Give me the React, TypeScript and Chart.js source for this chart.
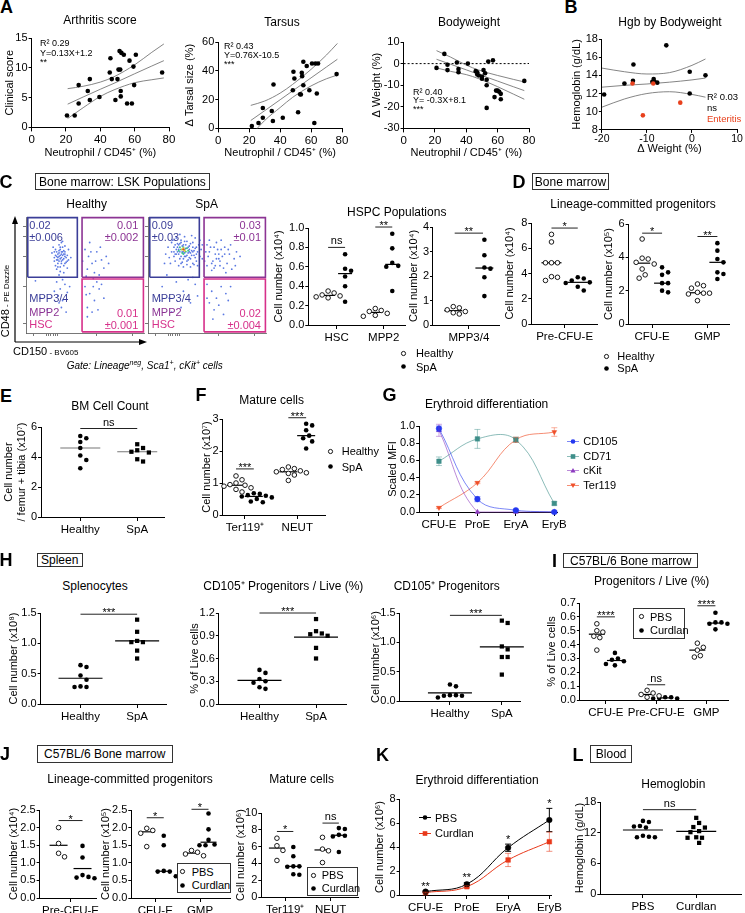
import React, { useEffect, useRef } from "react";
import { Chart, registerables } from "chart.js";

Chart.register(...registerables);
const FF = "'Liberation Sans', Arial, Helvetica, sans-serif";
Chart.defaults.font.family = FF;
Chart.defaults.color = "#000";

/* ======================= DATA ======================= */
// A – neutrophil % vs outcomes
const arthX = [20.6, 25.1, 27.4, 27.4, 32.7, 33.9, 33.9, 39.5, 45.9, 45.5, 46.7, 48.8, 50.0, 50.6, 51.2, 51.6, 51.9, 51.9, 52.3, 53.7, 55.6, 58.4, 57.0, 59.3, 59.7, 60.7, 76.0];
const arthY = [2.0, 2.0, 7.1, 4.0, 6.1, 8.1, 4.6, 5.1, 11.6, 9.2, 8.1, 4.6, 8.1, 9.7, 12.8, 9.7, 5.2, 6.1, 12.5, 12.2, 4.0, 4.0, 11.2, 10.2, 7.1, 12.2, 9.2];
const tarsX = [21.7, 26.0, 28.8, 28.8, 34.6, 35.3, 35.7, 41.7, 48.2, 48.6, 49.2, 51.6, 52.9, 53.4, 54.0, 54.2, 55.0, 55.0, 57.2, 58.9, 60.6, 62.1, 62.8, 63.7, 64.5, 76.5];
const tarsY = [1.6, 3.7, 14.2, 7.4, 12.1, 5.1, 30.5, 7.4, 26.5, 39.3, 34.7, 11.2, 23.7, 23.5, 38.6, 36.3, 46.3, 30, 43.3, 26.5, 45.1, 3.7, 45.1, 24.2, 45.1, 37.7];
const bwX = [21, 26, 28, 28, 34, 35, 35, 41, 46, 47, 47, 48, 50, 50, 51, 52, 53, 53, 53, 54, 57, 58, 59, 60, 61, 62, 62, 77];
const bwY = [-2, 4.5, -0.5, -3, 0.5, -2.5, -4, 0, -3.5, -4, -5, -5.5, -7, -6, -3, -4.5, -7.5, -10, -20.5, 1, 1.5, -15.5, -12.5, -12.5, -13, -16.5, -14, -8];
const bandX = [21, 30, 40, 48, 60, 70, 77];
const arthFit = [3.9, 5.1, 6.4, 7.4, 9.0, 10.3, 11.2];
const arthUp = [6.5, 6.9, 7.6, 8.5, 10.5, 12.6, 14.0];
const arthLo = [1.5, 3.3, 5.2, 6.3, 7.5, 8.0, 8.3];
const tarsFit = [5.5, 12.3, 19.9, 26.0, 35.1, 42.7, 48.0];
const tarsUp = [16, 19, 24.5, 30.5, 41, 51, 59];
const tarsLo = [-5, 5.5, 14.5, 21.5, 29.5, 34.5, 37];
const bwFit = [2.0, -0.3, -2.9, -5.0, -8.1, -10.7, -12.5];
const bwUp = [6.0, 3.0, -0.7, -3.0, -5.5, -7.3, -8.5];
const bwLo = [-2.0, -3.6, -5.1, -7.0, -10.7, -14.1, -16.5];

// B – hemoglobin vs weight
const hgbX = [-19.5, -15.0, -13.0, -13.1, -8.8, -8.5, -8.3, -7.7, -5.7, -0.5, -0.5, 3.0];
const hgbY = [11.9, 13.1, 15.2, 13.4, 13.3, 13.6, 13.3, 13.2, 17.3, 14.4, 12.0, 14.0];
const entX = [-13.2, -8.6, -10.9, -2.6];
const entY = [13.1, 13.1, 9.6, 11.0];
const hgbBandX = [-20, -15, -10, -5, 0, 3];
const hgbFit = [12.7, 12.9, 13.05, 13.25, 13.5, 13.7];
const hgbUp = [14.8, 14.4, 14.15, 14.3, 15.1, 15.8];
const hgbLo = [10.5, 11.4, 12.0, 12.2, 11.9, 11.6];

// C – flow cytometry (arbitrary 0–100 units)
const flowHealthy = [[28,66],[30,68],[26,70],[32,64],[29,72],[24,62],[33,70],[27,60],[31,74],[35,67],[25,67],[30,62],[28,76],[34,61],[22,69],[36,72],[29,57],[32,58],[26,55],[38,65],[23,74],[31,79],[27,63],[33,66],[30,70],[25,58],[35,56],[29,64],[27,68],[31,70],[30,65],[26,63],[33,75],[28,71],[32,68],[24,65],[36,63],[29,67],[27,65],[31,63],[33,68],[28,69],[30,60],[26,66],[32,71],[34,65],[29,74],[25,72],[31,67],[28,62],[30,78],[27,57],[35,62],[33,60],[24,70],[29,53],[32,52],[28,50],[31,46],[26,44],[33,42],[29,38],[35,35],[27,32],[31,28],[24,36],[37,40],[30,22],[34,18],[28,26],[50,72],[53,66],[56,60],[52,55],[60,70],[58,52],[64,63],[66,56],[54,78],[62,50],[70,60],[48,62],[55,70],[59,62],[63,74],[57,47],[51,49],[68,66],[50,40],[54,34],[58,28],[52,22],[62,38],[56,18],[66,30],[60,44],[52,14],[51,33],[57,40],[61,20],[64,42],[12,30],[18,20],[8,45]];
const flowSpa = [[20,70],[22,74],[24,68],[25,77],[26,72],[27,64],[28,80],[29,70],[30,76],[31,66],[32,73],[33,79],[34,69],[35,75],[36,64],[37,71],[38,78],[39,67],[40,73],[41,62],[42,70],[43,76],[44,66],[45,72],[18,65],[19,60],[21,80],[23,62],[26,58],[28,60],[30,57],[33,59],[36,57],[39,59],[42,58],[17,74],[20,78],[24,82],[31,83],[37,84],[44,80],[46,64],[46,76],[15,68],[22,66],[34,63],[27,85],[40,82],[14,60],[38,60],[25,70],[35,70],[23,76],[38,74],[41,68],[26,68],[28,66],[31,69],[33,67],[35,72],[29,75],[27,70],[32,76],[36,69],[24,72],[30,64],[34,74],[28,78],[37,67],[22,70],[25,74],[33,62],[39,71],[29,61],[31,79],[26,76],[36,77],[40,65],[23,68],[41,74],[30,70],[32,66],[27,77],[35,65],[38,70],[49,70],[51,66],[53,74],[55,62],[57,68],[59,72],[61,58],[63,66],[65,74],[67,60],[69,68],[71,55],[73,64],[75,70],[50,58],[54,54],[58,78],[62,80],[66,52],[70,76],[52,80],[56,56],[60,64],[64,56],[68,72],[48,62],[74,58],[78,66],[52,70],[56,74],[60,68],[54,60],[58,64],[62,72],[50,76],[57,58],[65,68],[61,62],[50,42],[54,36],[58,30],[62,40],[66,34],[52,26],[56,20],[60,24],[64,16],[68,28],[70,40],[55,12],[50,30],[12,40],[18,30],[24,44],[30,36],[36,26],[40,42],[20,18],[28,22],[34,46],[42,32],[16,50],[38,48],[10,28]];
const flowSpaCoreG = [[28,72],[31,72],[29,69],[32,70],[26,71],[30,74],[33,73],[27,74],[30,68],[34,71]];
const flowSpaCoreY = [[29,72],[31,71],[30,73]];
const flowSpaCoreR = [[30,72]];
const gateMpp34 = [1.5, 48, 43.5, 99.5];
const gateMpp2 = [47.5, 48, 99.5, 99.5];
const gateHsc = [47.5, 1, 99.5, 46.5];
const flowXTicks = [6, 17, 19, 21, 23, 25, 27, 60, 90];
const flowYTicks = [8, 40, 66, 83, 92];

// C – HSPC populations
const hspcCats = ["HSC", "MPP2"];
const hscH = [0.35, 0.33, 0.31, 0.30, 0.29, 0.28];
const hscS = [0.73, 0.58, 0.56, 0.50, 0.40, 0.24];
const mpp2H = [0.17, 0.15, 0.14, 0.12, 0.10, 0.09];
const mpp2S = [0.94, 0.79, 0.64, 0.61, 0.60, 0.35];
const mpp34Cats = ["MPP3/4"];
const mpp34H = [0.75, 0.70, 0.62, 0.55, 0.50, 0.45];
const mpp34S = [3.48, 2.85, 2.35, 2.30, 1.95, 1.18];

// D – lineage-committed progenitors
const preCats = ["Pre-CFU-E"];
const preH = [7.1, 6.5, 4.85, 4.85, 4.85, 3.75, 3.7, 3.45];
const preS = [3.7, 3.6, 3.45, 3.3, 3.25, 2.95, 2.65];
const cfuGmpCats = ["CFU-E", "GMP"];
const cfuH = [5.1, 3.95, 3.9, 3.7, 3.6, 3.3, 2.95, 2.75];
const cfuS = [3.4, 3.1, 2.95, 2.45, 2.45, 2.0, 1.9];
const gmpH = [2.4, 2.3, 2.15, 1.9, 1.85, 1.85, 1.8, 1.4];
const gmpS = [4.85, 4.4, 3.9, 3.7, 3.1, 3.0, 2.7];

// E – BM cell count
const groupCats = ["Healthy", "SpA"];
const eH = [5.4, 5.25, 5.0, 4.6, 4.1, 3.8, 3.25];
const eS = [4.85, 4.6, 4.45, 4.35, 4.3, 3.85, 3.7];

// F – mature cells
const matureCats = ["Ter119⁺", "NEUT"];
const fTerH = [1.22, 1.1, 1.0, 0.95, 0.93, 0.9, 0.85, 0.8, 0.72];
const fTerS = [0.68, 0.66, 0.62, 0.6, 0.58, 0.55, 0.5, 0.42, 0.4];
const fNeuH = [1.5, 1.45, 1.42, 1.38, 1.35, 1.32, 1.3, 1.25, 1.08];
const fNeuS = [2.85, 2.8, 2.65, 2.48, 2.4, 2.3, 2.08];

// G – erythroid differentiation (scaled MFI)
const eryCats = ["CFU-E", "ProE", "EryA", "EryB"];
const cd105 = [0.97, 0.15, 0.02, 0.0];
const cd105Err = [0.03, 0.03, 0.01, 0.01];
const cd71 = [0.59, 0.85, 0.84, 0.10];
const cd71Err = [0.05, 0.11, 0.03, 0.02];
const ckit = [0.95, 0.0, 0.0, 0.0];
const ckitErr = [0.07, 0, 0, 0];
const ter119 = [0.05, 0.34, 0.84, 0.93];
const ter119Err = [0.01, 0.01, 0.03, 0.05];

// H – spleen
const h1H = [0.64, 0.61, 0.47, 0.40, 0.29, 0.28, 0.28];
const h1S = [1.39, 1.19, 1.04, 1.02, 1.02, 0.88, 0.75];
const h2H = [0.45, 0.41, 0.33, 0.30, 0.28, 0.22, 0.20];
const h2S = [1.12, 0.96, 0.93, 0.92, 0.90, 0.74, 0.60];
const h3H = [0.28, 0.25, 0.10, 0.10, 0.09, 0.09, 0.06];
const h3S = [1.37, 1.33, 0.93, 0.88, 0.75, 0.75, 0.45];

// I – C57BL/6 progenitors / live
const iCats = ["CFU-E", "Pre-CFU-E", "GMP"];
const iCfuP = [0.55, 0.50, 0.49, 0.46, 0.45, 0.36];
const iCfuC = [0.34, 0.30, 0.29, 0.28, 0.26, 0.25];
const iPreP = [0.07, 0.05, 0.04, 0.03, 0.02];
const iPreC = [0.02, 0.02, 0.015, 0.01, 0.01];
const iGmpP = [0.41, 0.38, 0.36, 0.32, 0.31];
const iGmpC = [0.63, 0.56, 0.56, 0.55, 0.55, 0.51];

// J – C57BL/6 bone marrow
const j1P = [2.0, 1.55, 1.27, 1.17];
const j1C = [1.48, 1.15, 0.65, 0.6, 0.58, 0.56];
const j2CfuP = [1.98, 1.92, 1.84, 1.46];
const j2CfuC = [1.77, 1.5, 0.77, 0.75, 0.75, 0.62];
const j2GmpP = [1.35, 1.3, 1.25, 1.2];
const j2GmpC = [2.4, 1.95, 1.65, 1.52, 1.5, 1.5];
const j3TerP = [7.0, 6.1, 5.55, 4.35];
const j3TerC = [5.95, 4.85, 3.65, 3.65, 3.6, 2.7, 2.65];
const j3NeuP = [7.1, 5.7, 5.5, 4.1];
const j3NeuC = [8.2, 8.1, 7.4, 7.3, 7.2, 5.35];

// K – erythroid differentiation (cell numbers)
const kPbs = [0.28, 0.9, 3.94, 6.25];
const kPbsErr = [0.05, 0.12, 0.3, 0.97];
const kCur = [0.2, 0.69, 2.92, 4.44];
const kCurErr = [0.04, 0.08, 0.55, 0.8];
const kStars = ["**", "**", "*", "*"];

// L – blood hemoglobin
const lCats = ["PBS", "Curdlan"];
const lP = [14.3, 14.1, 13.3, 13.2, 13.0, 11.4, 11.2, 11.1, 11.1];
const lC = [14.9, 13.9, 13.1, 13.0, 12.3, 12.1, 11.1, 11.0, 11.0, 10.0];

/* ======================= HELPERS ======================= */
const P = 14;
const HALF = 6.6;
const TICKX = { size: 11.5, family: FF };
const TICKY = { size: 11, family: FF };
const TTL = { size: 11, family: FF };
const R = 2.3;
const BLUE = "#3b3e98";
const PURPLE = "#8c3494";
const PINK = "#d6308a";

const f1 = (v: number) => v.toFixed(1);
const f0 = (v: number) => String(Math.round(v));

const fixY = (w: number) => (s: any) => { s.width = w; s.paddingTop = 0; s.paddingBottom = 0; s.paddingLeft = 0; s.paddingRight = 0; };
const fixX = (h: number) => (s: any) => { s.height = h; s.paddingTop = 0; s.paddingBottom = 0; s.paddingLeft = 0; s.paddingRight = 0; };

function baseOpts(): any {
  return { responsive: false, animation: false, events: [], layout: { padding: P }, plugins: { legend: { display: false }, tooltip: { enabled: false } } };
}
const gridTicks = (len = 4) => ({ display: true, drawOnChartArea: false, drawTicks: true, tickLength: len, color: "#000", lineWidth: 1 });
const borderBlack = { display: true, color: "#000", width: 1 };

function yAxis(o: any) {
  return {
    type: "linear", min: o.yMin, max: o.yMax,
    ticks: { stepSize: o.yStep, font: TICKY, padding: 1, color: "#000", autoSkip: false, callback: (v: number) => (o.fmt ? o.fmt(v) : f0(v)) },
    grid: gridTicks(3), border: borderBlack,
    title: { display: !!o.yTitle, text: o.yTitle, font: TTL, padding: 0, color: "#000" },
    afterFit: fixY(o.yW),
  };
}
function numXAxis(o: any) {
  return {
    type: "linear", min: o.xMin, max: o.xMax,
    ticks: { stepSize: o.xStep, font: o.xFont || TICKX, padding: o.xPad ?? 2, color: "#000", maxRotation: 0, autoSkip: false, callback: f0 },
    grid: gridTicks(o.xTl ?? 4), border: borderBlack,
    title: { display: true, text: o.xTitle, font: TTL, padding: 0, color: "#000" },
    afterFit: fixX(o.xH),
  };
}
function catAxis(o: any) {
  return {
    type: "linear", min: o.xMin, max: o.xMax,
    afterBuildTicks: (s: any) => { s.ticks = o.cats.map((_: any, i: number) => ({ value: i })); },
    ticks: { font: TICKX, padding: 2, color: "#000", autoSkip: false, maxRotation: 0, minRotation: 0, callback: (v: number) => o.cats[Math.round(v)] ?? "" },
    grid: gridTicks(), border: borderBlack,
    afterFit: fixX(o.xH),
  };
}

function swarm(vals: number[], ppy: number, d: number): number[] {
  const order = vals.map((_, i) => i).sort((a, b) => vals[b] - vals[a]);
  const placed: number[][] = [];
  const res = vals.map(() => 0);
  for (const i of order) {
    const y = vals[i] * ppy;
    for (let k = 0; k < 60; k++) {
      const c = (k % 2 ? 1 : -1) * Math.ceil(k / 2) * d / 2;
      if (placed.every(([px, py]) => (px - c) ** 2 + (py - y) ** 2 >= d * d * 0.95)) { res[i] = c; placed.push([c, y]); break; }
    }
  }
  return res;
}
function stat(vals: number[], kind: string) {
  if (kind === "mean") return vals.reduce((a, b) => a + b, 0) / vals.length;
  const s = [...vals].sort((a, b) => a - b);
  const n = s.length;
  return n % 2 ? s[(n - 1) / 2] : (s[n / 2 - 1] + s[n / 2]) / 2;
}
function drawSig(ctx: any, xs: any, ys: any, sg: any) {
  const x1 = xs.getPixelForValue(sg.x1), x2 = xs.getPixelForValue(sg.x2), y = ys.getPixelForValue(sg.y);
  ctx.save();
  ctx.strokeStyle = "#222"; ctx.lineWidth = 1;
  ctx.beginPath(); ctx.moveTo(x1, y); ctx.lineTo(x2, y); ctx.stroke();
  ctx.fillStyle = "#000"; ctx.font = `11px ${FF}`; ctx.textAlign = "center"; ctx.textBaseline = "alphabetic";
  const star = sg.text.indexOf("*") >= 0;
  ctx.fillText(sg.text, (x1 + x2) / 2, star ? y + 2 : y - 3);
  ctx.restore();
}

function dotChart(o: any) {
  const [l, t, r, b] = o.area;
  const ppx = (r - l) / (o.xMax - o.xMin), ppy = (b - t) / (o.yMax - o.yMin);
  const datasets = o.groups.map((g: any) => {
    const offs = swarm(g.vals, ppy, g.kind === "square" ? 5.8 : 2 * R + 1.4);
    const cx = g.cat + g.side * (o.off || 0);
    return {
      data: g.vals.map((v: number, i: number) => ({ x: cx + offs[i] / ppx, y: v })),
      pointStyle: g.kind === "square" ? "rect" : "circle",
      pointRadius: g.kind === "square" ? 3 : R,
      pointBackgroundColor: g.kind === "open" ? "#fff" : "#000",
      pointBorderColor: "#000",
      pointBorderWidth: g.kind === "open" ? 0.9 : 0,
      showLine: false, clip: false,
    };
  });
  const deco = {
    id: "deco",
    beforeDatasetsDraw(ch: any) {
      const ctx = ch.ctx, xs = ch.scales.x, ys = ch.scales.y;
      ctx.save(); ctx.strokeStyle = o.medColor || "#000"; ctx.lineWidth = 1.2;
      o.groups.forEach((g: any) => {
        const m = stat(g.vals, o.stat);
        const x = xs.getPixelForValue(g.cat + g.side * (o.off || 0));
        const y = ys.getPixelForValue(m);
        ctx.beginPath(); ctx.moveTo(x - o.medW, y); ctx.lineTo(x + o.medW, y); ctx.stroke();
      });
      ctx.restore();
    },
    afterDatasetsDraw(ch: any) { o.sigs.forEach((sg: any) => drawSig(ch.ctx, ch.scales.x, ch.scales.y, sg)); },
  };
  return { type: "scatter", data: { datasets }, options: { ...baseOpts(), scales: { x: catAxis(o), y: yAxis(o) } }, plugins: [deco] };
}

function regChart(o: any) {
  const line = (xs: number[], ys: number[]) => ({ data: xs.map((x, i) => ({ x, y: ys[i] })), showLine: true, pointRadius: 0, borderColor: "#777", borderWidth: 0.9, tension: 0.4, cubicInterpolationMode: "monotone" });
  const pts = (xs: number[], ys: number[], c: string) => ({ data: xs.map((x, i) => ({ x, y: ys[i] })), pointRadius: R, pointBackgroundColor: c, pointBorderWidth: 0, showLine: false, clip: false });
  const datasets: any[] = [...o.points.map((p: any) => pts(p.x, p.y, p.c)), line(o.bx, o.fit), line(o.bx, o.up), line(o.bx, o.lo)];
  if (o.zero) datasets.push({ data: [{ x: o.xMin, y: 0 }, { x: o.xMax, y: 0 }], showLine: true, pointRadius: 0, borderColor: "#000", borderWidth: 1, borderDash: [2, 2] });
  return { type: "scatter", data: { datasets }, options: { ...baseOpts(), scales: { x: numXAxis(o), y: yAxis(o) } } };
}

function lineChart(o: any) {
  const datasets = o.series.map((s: any) => ({
    data: s.vals.map((v: number, i: number) => ({ x: i, y: v })),
    errors: s.errs, errColor: s.errColor,
    showLine: true, tension: 0.4, borderColor: s.line, borderWidth: 1,
    pointStyle: s.style, pointRotation: s.rot || 0, pointRadius: s.r,
    pointBackgroundColor: s.color, pointBorderColor: s.color, pointBorderWidth: 0.5, clip: false,
  }));
  const deco = {
    id: "err",
    afterDatasetsDraw(ch: any) {
      const ctx = ch.ctx, xs = ch.scales.x, ys = ch.scales.y;
      ctx.save();
      ch.data.datasets.forEach((ds: any) => {
        ctx.strokeStyle = ds.errColor; ctx.lineWidth = 1;
        ds.data.forEach((p: any, i: number) => {
          const e = ds.errors[i];
          if (!e) return;
          const x = xs.getPixelForValue(p.x), y1 = ys.getPixelForValue(p.y - e), y2 = ys.getPixelForValue(p.y + e);
          ctx.beginPath();
          ctx.moveTo(x, y1); ctx.lineTo(x, y2);
          ctx.moveTo(x - 3, y1); ctx.lineTo(x + 3, y1);
          ctx.moveTo(x - 3, y2); ctx.lineTo(x + 3, y2);
          ctx.stroke();
        });
      });
      if (o.stars) {
        ctx.fillStyle = "#000"; ctx.font = `11px ${FF}`; ctx.textAlign = "center"; ctx.textBaseline = "alphabetic";
        o.stars.forEach((st: string, i: number) => {
          const top = Math.max(...o.series.map((s: any) => s.vals[i] + s.errs[i]));
          ctx.fillText(st, xs.getPixelForValue(i), ys.getPixelForValue(top) - 1.5);
        });
      }
      ctx.restore();
    },
  };
  return { type: "scatter", data: { datasets }, options: { ...baseOpts(), scales: { x: catAxis(o), y: yAxis(o) } }, plugins: [deco] };
}

function flowChart(o: any) {
  const rect = (g: number[], c: string) => ({ data: [{ x: g[0], y: g[1] }, { x: g[2], y: g[1] }, { x: g[2], y: g[3] }, { x: g[0], y: g[3] }, { x: g[0], y: g[1] }], showLine: true, tension: 0, pointRadius: 0, borderColor: c, borderWidth: 1.6, clip: false });
  const dots = (arr: number[][], c: string, r: number) => ({ data: arr.map(([x, y]) => ({ x, y })), pointRadius: r, pointBackgroundColor: c, pointBorderWidth: 0, showLine: false });
  const ds: any[] = [rect(gateMpp34, BLUE), rect(gateMpp2, PURPLE), rect(gateHsc, PINK)];
  if (o.core) ds.push(dots(flowSpaCoreR, "#e63b2a", 1.1), dots(flowSpaCoreY, "#e8cf2a", 1.1), dots(flowSpaCoreG, "#35c08c", 1.0));
  ds.push(dots(o.dots, "#5a78e2", 0.9));
  const ax = (ticks: number[], h: boolean) => ({
    type: "linear", min: 0, max: 100,
    afterBuildTicks: (s: any) => { s.ticks = ticks.map((v) => ({ value: v })); },
    ticks: { display: false },
    grid: { display: true, drawOnChartArea: false, drawTicks: true, tickLength: 3, color: "#555", lineWidth: 0.8 },
    border: { display: true, color: "#555", width: 0.8 },
    afterFit: h ? fixX(o.xH) : fixY(o.yW),
  });
  return { type: "scatter", data: { datasets: ds }, options: { ...baseOpts(), scales: { x: ax(flowXTicks, true), y: ax(flowYTicks, false) } } };
}

/* ======================= SPECS ======================= */
const G = (cat: number, side: number, vals: number[], kind: string) => ({ cat, side, vals, kind });
const S = (x1: number, x2: number, y: number, text: string) => ({ x1, x2, y, text });
const mk = (o: any) => ({ xH: 20, ...o, yW: o.area[0] - o.tx + HALF });
const mkR = (o: any) => ({ ...o, yW: o.area[0] - o.tx + HALF, xH: o.ty + HALF - o.area[3] });
const NEUT_T = "Neutrophil / CD45⁺ (%)";

const specA1 = mkR({ area: [32, 38, 169, 127], tx: 10, ty: 153, xMin: 0, xMax: 80, xStep: 20, yMin: 0, yMax: 15, yStep: 5, yTitle: "Clinical score", xTitle: NEUT_T, points: [{ x: arthX, y: arthY, c: "#000" }], bx: bandX, fit: arthFit, up: arthUp, lo: arthLo });
const specA2 = mkR({ area: [218, 42, 342, 128], tx: 189.3, ty: 153, xMin: 0, xMax: 80, xStep: 20, yMin: 0, yMax: 60, yStep: 20, yTitle: "Δ Tarsal size (%)", xTitle: NEUT_T, points: [{ x: tarsX, y: tarsY, c: "#000" }], bx: bandX, fit: tarsFit, up: tarsUp, lo: tarsLo });
const specA3 = mkR({ area: [404, 42, 529, 128], tx: 377, ty: 153, xMin: 0, xMax: 80, xStep: 20, yMin: -30, yMax: 10, yStep: 10, yTitle: "Δ Weight (%)", xTitle: NEUT_T, points: [{ x: bwX, y: bwY, c: "#000" }], bx: bandX, fit: bwFit, up: bwUp, lo: bwLo, zero: true });
const specB = mkR({ area: [602, 39.3, 736.7, 130], tx: 576.7, ty: 149.5, xMin: -20, xMax: 10, xStep: 10, xTl: 3, xPad: 0, xFont: { size: 10.5, family: FF }, yMin: 8, yMax: 18, yStep: 2, yTitle: "Hemoglobin (g/dL)", xTitle: "Δ Weight (%)", points: [{ x: entX, y: entY, c: "#e8401c" }, { x: hgbX, y: hgbY, c: "#000" }], bx: hgbBandX, fit: hgbFit, up: hgbUp, lo: hgbLo });

const specFlowH = { area: [26, 217, 144, 333], yW: 3, xH: 4, dots: flowHealthy, core: false };
const specFlowS = { area: [148, 217, 266, 333], yW: 3, xH: 4, dots: flowSpa, core: true };

const specC1 = mk({ area: [308, 228, 405, 325], tx: 278.3, xMin: -0.6, xMax: 1.45, cats: hspcCats, yMin: 0, yMax: 1, yStep: 0.2, fmt: f1, yTitle: "Cell number (x10⁴)", off: 0.18, medW: 7, stat: "median",
  groups: [G(0, -1, hscH, "open"), G(0, 1, hscS, "filled"), G(1, -1, mpp2H, "open"), G(1, 1, mpp2S, "filled")],
  sigs: [S(-0.18, 0.18, 0.8, "ns"), S(0.82, 1.18, 1.01, "**")] });
const specC2 = mk({ area: [432.7, 226.7, 498.3, 325], tx: 413.3, xMin: -0.76, xMax: 0.64, cats: mpp34Cats, yMin: 0, yMax: 4, yStep: 1, yTitle: "Cell number (x10⁴)", off: 0.33, medW: 9, stat: "median",
  groups: [G(0, -1, mpp34H, "open"), G(0, 1, mpp34S, "filled")], sigs: [S(-0.3, 0.3, 3.75, "**")] });
const specD1 = mk({ area: [531.7, 222.7, 597.3, 324], tx: 510, xMin: -0.71, xMax: 0.69, cats: preCats, yMin: 0, yMax: 8, yStep: 2, yTitle: "Cell number (x10⁴)", off: 0.28, medW: 10, stat: "median",
  groups: [G(0, -1, preH, "open"), G(0, 1, preS, "filled")], sigs: [S(-0.28, 0.28, 7.6, "*")] });
const specD2 = mk({ area: [628.3, 224, 728.3, 324], tx: 608.3, xMin: -0.425, xMax: 1.39, cats: cfuGmpCats, yMin: 0, yMax: 6, yStep: 2, yTitle: "Cell number (x10⁵)", off: 0.18, medW: 8, stat: "median",
  groups: [G(0, -1, cfuH, "open"), G(0, 1, cfuS, "filled"), G(1, -1, gmpH, "open"), G(1, 1, gmpS, "filled")],
  sigs: [S(-0.18, 0.18, 5.45, "*"), S(0.82, 1.18, 5.25, "**")] });
const specE = mk({ area: [40.7, 426.7, 163.3, 516.7], tx: 8.3, xMin: -0.69, xMax: 1.47, cats: groupCats, yMin: 0, yMax: 6, yStep: 2, yTitle: ["Cell number", "/ femur + tibia (x10⁷)"], off: 0, medW: 20, medColor: "#777", stat: "median",
  groups: [G(0, 0, eH, "filled"), G(1, 0, eS, "square")], sigs: [S(0, 1, 5.9, "ns")] });
const specF = mk({ area: [222.7, 419, 325, 515], tx: 206.7, xMin: -0.426, xMax: 1.53, cats: matureCats, yMin: 0, yMax: 3, yStep: 1, yTitle: "Cell number (x10⁷)", off: 0.17, medW: 9, stat: "median",
  groups: [G(0, -1, fTerH, "open"), G(0, 1, fTerS, "filled"), G(1, -1, fNeuH, "open"), G(1, 1, fNeuS, "filled")],
  sigs: [S(-0.17, 0.17, 1.44, "***"), S(0.83, 1.17, 3.04, "***")] });
const specG = mk({ area: [419.3, 426, 556.7, 511.7], tx: 392.7, xMin: -0.514, xMax: 3.07, cats: eryCats, yMin: 0, yMax: 1, yStep: 0.2, fmt: f1, yTitle: "Scaled MFI",
  series: [
    { vals: cd105, errs: cd105Err, color: "#2438f0", line: "rgba(36,56,240,0.6)", errColor: "rgba(36,56,240,0.45)", style: "circle", r: 2.8 },
    { vals: cd71, errs: cd71Err, color: "#3f8f8a", line: "rgba(63,143,138,0.6)", errColor: "rgba(63,143,138,0.45)", style: "rect", r: 3.2 },
    { vals: ckit, errs: ckitErr, color: "#8e3cc0", line: "rgba(142,60,192,0.6)", errColor: "rgba(142,60,192,0.45)", style: "triangle", r: 2.8 },
    { vals: ter119, errs: ter119Err, color: "#f0502a", line: "rgba(240,80,42,0.65)", errColor: "rgba(240,80,42,0.45)", style: "triangle", rot: 180, r: 2.8 },
  ] });
const specH1 = mk({ area: [41, 612.7, 166.7, 703.3], tx: 14, xMin: -0.705, xMax: 1.51, cats: groupCats, yMin: 0, yMax: 1.5, yStep: 0.5, fmt: f1, yTitle: "Cell number (x10⁸)", off: 0, medW: 22, stat: "mean",
  groups: [G(0, 0, h1H, "filled"), G(1, 0, h1S, "square")], sigs: [S(0, 1, 1.48, "***")] });
const specH2 = mk({ area: [219.3, 612.7, 346.7, 703.3], tx: 195, xMin: -0.718, xMax: 1.53, cats: groupCats, yMin: 0, yMax: 1.2, yStep: 0.3, fmt: f1, yTitle: "% of Live cells", off: 0, medW: 22, stat: "mean",
  groups: [G(0, 0, h2H, "filled"), G(1, 0, h2S, "square")], sigs: [S(0, 1, 1.2, "***")] });
const specH3 = mk({ area: [400, 613.3, 520, 701.7], tx: 376, xMin: -0.97, xMax: 1.35, cats: groupCats, yMin: 0, yMax: 1.5, yStep: 0.5, fmt: f1, yTitle: "Cell number (x10⁶)", off: 0, medW: 22, stat: "mean",
  groups: [G(0, 0, h3H, "filled"), G(1, 0, h3S, "square")], sigs: [S(0, 1, 1.46, "***")] });
const specI = mk({ area: [580, 603.3, 728.3, 700.7], tx: 551.7, xMin: -0.517, xMax: 2.43, cats: iCats, yMin: 0, yMax: 0.7, yStep: 0.1, fmt: f1, yTitle: "% of Live cells", off: 0.18, medW: 8, stat: "median",
  groups: [G(0, -1, iCfuP, "open"), G(0, 1, iCfuC, "filled"), G(1, -1, iPreP, "open"), G(1, 1, iPreC, "filled"), G(2, -1, iGmpP, "open"), G(2, 1, iGmpC, "filled")],
  sigs: [S(-0.18, 0.18, 0.6, "****"), S(0.82, 1.18, 0.11, "ns"), S(1.82, 2.18, 0.68, "****")] });
const specJ1 = mk({ area: [40, 810, 96.7, 898.3], tx: 14, xMin: -0.62, xMax: 0.51, cats: preCats, yMin: 0, yMax: 2.5, yStep: 0.5, fmt: f1, yTitle: "Cell number (x10⁴)", off: 0.24, medW: 9, stat: "mean",
  groups: [G(0, -1, j1P, "open"), G(0, 1, j1C, "filled")], sigs: [S(-0.24, 0.24, 2.2, "*")] });
const specJ2 = mk({ area: [131.7, 810, 230, 898.3], tx: 106, xMin: -0.535, xMax: 1.67, cats: cfuGmpCats, yMin: 0, yMax: 2.5, yStep: 0.5, fmt: f1, yTitle: "Cell number (x10⁵)", off: 0.19, medW: 8, stat: "median",
  groups: [G(0, -1, j2CfuP, "open"), G(0, 1, j2CfuC, "filled"), G(1, -1, j2GmpP, "open"), G(1, 1, j2GmpC, "filled")],
  sigs: [S(-0.19, 0.19, 2.28, "*"), S(0.81, 1.19, 2.52, "*")] });
const specJ3 = mk({ area: [261.7, 813.3, 358.3, 897.3], tx: 241, xMin: -0.523, xMax: 1.6, cats: matureCats, yMin: 0, yMax: 10, yStep: 2, yTitle: "Cell number (x10⁶)", off: 0.18, medW: 8, stat: "median",
  groups: [G(0, -1, j3TerP, "open"), G(0, 1, j3TerC, "filled"), G(1, -1, j3NeuP, "open"), G(1, 1, j3NeuC, "filled")],
  sigs: [S(-0.18, 0.18, 7.8, "*"), S(0.82, 1.18, 8.8, "ns")] });
const specK = mk({ area: [400, 799, 551.7, 895], tx: 380, xMin: -0.63, xMax: 3.04, cats: eryCats, yMin: 0, yMax: 8, yStep: 2, yTitle: "Cell number (x10⁶)", stars: kStars,
  series: [
    { vals: kPbs, errs: kPbsErr, color: "#000", line: "#000", errColor: "#000", style: "circle", r: 2.8 },
    { vals: kCur, errs: kCurErr, color: "#e8381a", line: "#e8381a", errColor: "rgba(232,56,26,0.55)", style: "rect", r: 3.3 },
  ] });
const specL = mk({ area: [600.7, 801.7, 741.7, 893.3], tx: 580, xMin: -0.8, xMax: 1.84, cats: lCats, yMin: 0, yMax: 18, yStep: 6, yTitle: "Hemoglobin (g/dL)", off: 0, medW: 20, stat: "mean",
  groups: [G(0, 0, lP, "filled"), G(1, 0, lC, "square")], sigs: [S(0, 1, 16.5, "ns")] });

/* ======================= COMPONENTS ======================= */
function ChartBox({ spec, make }: any) {
  const ref = useRef<HTMLCanvasElement>(null);
  const [l, t, r, b] = spec.area;
  const yW = spec.yW, xH = spec.xH;
  const left = Math.round(l - yW - P), top = Math.round(t - P);
  const w = Math.round(r - l + yW + 2 * P), h = Math.round(b - t + xH + 2 * P);
  useEffect(() => {
    const c = new Chart(ref.current as HTMLCanvasElement, make(spec));
    return () => c.destroy();
  }, []);
  return <canvas ref={ref} width={w} height={h} style={{ position: "absolute", left, top, width: w, height: h }} />;
}

function Txt({ x, y, s = 12, a = "c", c = "#000", b = false, it = false, rot = 0, children }: any) {
  const tx = a === "c" ? "-50%" : a === "r" ? "-100%" : "0%";
  return (
    <div style={{ position: "absolute", left: x, top: y, transform: `translate(${tx}, -50%)` + (rot ? ` rotate(${rot}deg)` : ""), transformOrigin: "50% 50%", fontSize: s, color: c, fontWeight: b ? 700 : 400, fontStyle: it ? "italic" : "normal", whiteSpace: "nowrap", lineHeight: 1.15, fontFamily: FF }}>
      {children}
    </div>
  );
}
function Box({ x1, y1, x2, y2, children }: any) {
  return (
    <div style={{ position: "absolute", left: x1, top: y1, width: x2 - x1, height: y2 - y1, boxSizing: "border-box", border: "1px solid #333", display: "flex", alignItems: "center", justifyContent: "center", fontSize: 12, fontFamily: FF, whiteSpace: "nowrap" }}>
      {children}
    </div>
  );
}
function Mark({ x, y, k, c = "#000", line }: any) {
  const w = line ? 12 : 7, h = 7, cx = w / 2, cy = 3.5;
  let shape: any = null;
  if (k === "open") shape = <circle cx={cx} cy={cy} r={2.1} fill="#fff" stroke={c} strokeWidth={0.9} />;
  else if (k === "filled") shape = <circle cx={cx} cy={cy} r={2.3} fill={c} />;
  else if (k === "square") shape = <rect x={cx - 2.3} y={cy - 2.3} width={4.6} height={4.6} fill={c} />;
  else if (k === "tri") shape = <polygon points={`${cx},${cy - 2.6} ${cx + 2.6},${cy + 2} ${cx - 2.6},${cy + 2}`} fill={c} />;
  else if (k === "tridown") shape = <polygon points={`${cx},${cy + 2.6} ${cx + 2.6},${cy - 2} ${cx - 2.6},${cy - 2}`} fill={c} />;
  return (
    <svg width={w} height={h} style={{ position: "absolute", left: x - w / 2, top: y - h / 2, overflow: "visible" }}>
      {line ? <line x1={0} y1={cy} x2={w} y2={cy} stroke={line} strokeWidth={1} /> : null}
      {shape}
    </svg>
  );
}
const Letter = ({ x, y, children }: any) => <Txt x={x} y={y} s={18} b>{children}</Txt>;

export default function App() {
  return (
    <div style={{ position: "absolute", left: 0, top: 0, width: 745, height: 913, overflow: "hidden", background: "#fff", fontFamily: FF, color: "#000" }}>
      {/* charts */}
      <ChartBox spec={specA1} make={regChart} />
      <ChartBox spec={specA2} make={regChart} />
      <ChartBox spec={specA3} make={regChart} />
      <ChartBox spec={specB} make={regChart} />
      <ChartBox spec={specFlowH} make={flowChart} />
      <ChartBox spec={specFlowS} make={flowChart} />
      <ChartBox spec={specC1} make={dotChart} />
      <ChartBox spec={specC2} make={dotChart} />
      <ChartBox spec={specD1} make={dotChart} />
      <ChartBox spec={specD2} make={dotChart} />
      <ChartBox spec={specE} make={dotChart} />
      <ChartBox spec={specF} make={dotChart} />
      <ChartBox spec={specG} make={lineChart} />
      <ChartBox spec={specH1} make={dotChart} />
      <ChartBox spec={specH2} make={dotChart} />
      <ChartBox spec={specH3} make={dotChart} />
      <ChartBox spec={specI} make={dotChart} />
      <ChartBox spec={specJ1} make={dotChart} />
      <ChartBox spec={specJ2} make={dotChart} />
      <ChartBox spec={specJ3} make={dotChart} />
      <ChartBox spec={specK} make={lineChart} />
      <ChartBox spec={specL} make={dotChart} />

      {/* panel letters */}
      <Letter x={6.5} y={7}>A</Letter>
      <Letter x={571} y={7}>B</Letter>
      <Letter x={6} y={181.5}>C</Letter>
      <Letter x={519} y={181.5}>D</Letter>
      <Letter x={6} y={396}>E</Letter>
      <Letter x={201} y={395}>F</Letter>
      <Letter x={389.5} y={395}>G</Letter>
      <Letter x={6} y={560}>H</Letter>
      <Letter x={554.5} y={561}>I</Letter>
      <Letter x={5} y={754}>J</Letter>
      <Letter x={382.5} y={755}>K</Letter>
      <Letter x={578} y={754.5}>L</Letter>

      {/* row A/B */}
      <Txt x={100} y={21}>Arthritis score</Txt>
      <Txt x={282} y={23}>Tarsus</Txt>
      <Txt x={469} y={23}>Bodyweight</Txt>
      <Txt x={670} y={23}>Hgb by Bodyweight</Txt>
      <Txt x={40} y={43} s={9} a="l">R² 0.29</Txt>
      <Txt x={40} y={53} s={9} a="l">Y=0.13X+1.2</Txt>
      <Txt x={40} y={62} s={9} a="l">**</Txt>
      <Txt x={224} y={46} s={9} a="l">R² 0.43</Txt>
      <Txt x={224} y={55} s={9} a="l">Y=0.76X-10.5</Txt>
      <Txt x={224} y={64} s={9} a="l">***</Txt>
      <Txt x={413} y={91.7} s={9} a="l">R² 0.40</Txt>
      <Txt x={413} y={100} s={9} a="l">Y= -0.3X+8.1</Txt>
      <Txt x={413} y={109} s={9} a="l">***</Txt>
      <Txt x={707} y={96.7} s={9.5} a="l">R² 0.03</Txt>
      <Txt x={707} y={108} s={9.5} a="l">ns</Txt>
      <Txt x={707} y={119} s={9.5} a="l" c="#e8401c">Enteritis</Txt>

      {/* C */}
      <Box x1={35} y1={173} x2={210} y2={190}>Bone marrow: LSK Populations</Box>
      <Txt x={86.7} y={205}>Healthy</Txt>
      <Txt x={206.7} y={205}>SpA</Txt>
      <svg width={160} height={200} style={{ position: "absolute", left: 0, top: 160 }}>
        <line x1={15} y1={182} x2={15} y2={63} stroke="#000" strokeWidth={1.2} />
        <polygon points="15,56 12,64 18,64" fill="#000" />
        <line x1={15} y1={182} x2={140} y2={182} stroke="#000" strokeWidth={1.2} />
        <polygon points="147,182 139,179 139,185" fill="#000" />
      </svg>
      <Txt x={6} y={301} rot={-90} a="c"><span style={{ fontSize: 11 }}>CD48</span><span style={{ fontSize: 8 }}> - PE Dazzle</span></Txt>
      <Txt x={13} y={352} a="l"><span style={{ fontSize: 11 }}>CD150</span><span style={{ fontSize: 8 }}> - BV605</span></Txt>
      <Txt x={66.7} y={365} s={10} a="l" it>Gate: Lineage<sup style={{ fontSize: 7 }}>neg</sup>, Sca1<sup style={{ fontSize: 7 }}>+</sup>, cKit<sup style={{ fontSize: 7 }}>+</sup> cells</Txt>
      <Txt x={29.3} y={225} s={11} a="l" c={BLUE}>0.02</Txt>
      <Txt x={29.3} y={237.3} s={11} a="l" c={BLUE}>±0.006</Txt>
      <Txt x={138.3} y={225} s={11} a="r" c={PURPLE}>0.01</Txt>
      <Txt x={138.3} y={237.3} s={11} a="r" c={PURPLE}>±0.002</Txt>
      <Txt x={29.3} y={298.3} s={11} a="l" c={BLUE}>MPP3/4</Txt>
      <Txt x={29.3} y={311.7} s={11} a="l" c={PURPLE}>MPP2</Txt>
      <Txt x={29.3} y={324.3} s={11} a="l" c={PINK}>HSC</Txt>
      <Txt x={138.3} y={313.3} s={11} a="r" c={PINK}>0.01</Txt>
      <Txt x={138.3} y={325} s={11} a="r" c={PINK}>±0.001</Txt>
      <Txt x={151.7} y={225} s={11} a="l" c={BLUE}>0.09</Txt>
      <Txt x={151.7} y={237.3} s={11} a="l" c={BLUE}>±0.03</Txt>
      <Txt x={261} y={225} s={11} a="r" c={PURPLE}>0.03</Txt>
      <Txt x={261} y={237.3} s={11} a="r" c={PURPLE}>±0.01</Txt>
      <Txt x={151.7} y={298.3} s={11} a="l" c={BLUE}>MPP3/4</Txt>
      <Txt x={151.7} y={311.7} s={11} a="l" c={PURPLE}>MPP2</Txt>
      <Txt x={151.7} y={324.3} s={11} a="l" c={PINK}>HSC</Txt>
      <Txt x={261} y={313.3} s={11} a="r" c={PINK}>0.02</Txt>
      <Txt x={261} y={325} s={11} a="r" c={PINK}>±0.004</Txt>
      <Txt x={396.7} y={213.3}>HSPC Populations</Txt>
      <Mark x={403.3} y={353.3} k="open" />
      <Txt x={416} y={353.3} s={11} a="l">Healthy</Txt>
      <Mark x={403.3} y={366.7} k="filled" />
      <Txt x={416} y={366.7} s={11} a="l">SpA</Txt>

      {/* D */}
      <Box x1={531.7} y1={173.3} x2={609.3} y2={190}>Bone marrow</Box>
      <Txt x={633} y={205}>Lineage-committed progenitors</Txt>
      <Mark x={606.7} y={356} k="open" />
      <Txt x={617.3} y={356} s={11} a="l">Healthy</Txt>
      <Mark x={606.7} y={368.3} k="filled" />
      <Txt x={617.3} y={368.3} s={11} a="l">SpA</Txt>

      {/* E F G */}
      <Txt x={110} y={406.7}>BM Cell Count</Txt>
      <Txt x={271.7} y={400.7}>Mature cells</Txt>
      <Mark x={330} y={451} k="open" />
      <Txt x={341.7} y={451} s={11} a="l">Healthy</Txt>
      <Mark x={330} y={466.7} k="filled" />
      <Txt x={341.7} y={466.7} s={11} a="l">SpA</Txt>
      <Txt x={486.7} y={405}>Erythroid differentiation</Txt>
      <Mark x={572.7} y={441} k="filled" c="#2438f0" line="rgba(36,56,240,0.6)" />
      <Txt x={583.3} y={441} s={11} a="l">CD105</Txt>
      <Mark x={572.7} y={456} k="square" c="#3f8f8a" line="rgba(63,143,138,0.6)" />
      <Txt x={583.3} y={456} s={11} a="l">CD71</Txt>
      <Mark x={572.7} y={470} k="tri" c="#8e3cc0" line="rgba(142,60,192,0.6)" />
      <Txt x={583.3} y={470} s={11} a="l">cKit</Txt>
      <Mark x={572.7} y={485} k="tridown" c="#f0502a" line="rgba(240,80,42,0.65)" />
      <Txt x={583.3} y={485} s={11} a="l">Ter119</Txt>

      {/* H */}
      <Box x1={36.7} y1={553.3} x2={82.7} y2={566.7}>Spleen</Box>
      <Txt x={95} y={587.3}>Splenocytes</Txt>
      <Txt x={283.3} y={586.7}>CD105⁺ Progenitors / Live (%)</Txt>
      <Txt x={446.7} y={587.3}>CD105⁺ Progenitors</Txt>

      {/* I */}
      <Box x1={563.3} y1={553.3} x2={698.3} y2={568.3}>C57BL/6 Bone marrow</Box>
      <Txt x={651.7} y={582.3}>Progenitors / Live (%)</Txt>
      <div style={{ position: "absolute", left: 633.3, top: 608.3, width: 51.7, height: 31, border: "1px solid #333", boxSizing: "border-box", background: "#fff" }} />
      <Mark x={641.7} y={616.7} k="open" />
      <Txt x={650} y={616.7} s={11} a="l">PBS</Txt>
      <Mark x={641.7} y={630} k="filled" />
      <Txt x={650} y={630} s={11} a="l">Curdlan</Txt>

      {/* J */}
      <Box x1={36.7} y1={745} x2={172.7} y2={763.3}>C57BL/6 Bone marrow</Box>
      <Txt x={130} y={780}>Lineage-committed progenitors</Txt>
      <Txt x={301.7} y={780}>Mature cells</Txt>
      <div style={{ position: "absolute", left: 176.7, top: 863.3, width: 54, height: 29.4, border: "1px solid #333", boxSizing: "border-box", background: "#fff" }} />
      <Mark x={182.7} y={871.7} k="open" />
      <Txt x={191.7} y={871.7} s={11} a="l">PBS</Txt>
      <Mark x={182.7} y={885} k="filled" />
      <Txt x={191.7} y={885} s={11} a="l">Curdlan</Txt>
      <div style={{ position: "absolute", left: 306.7, top: 866.7, width: 51.6, height: 29, border: "1px solid #333", boxSizing: "border-box", background: "#fff" }} />
      <Mark x={313.3} y={875} k="open" />
      <Txt x={321.7} y={875} s={11} a="l">PBS</Txt>
      <Mark x={313.3} y={888.3} k="filled" />
      <Txt x={321.7} y={888.3} s={11} a="l">Curdlan</Txt>

      {/* K */}
      <Txt x={477} y={781}>Erythroid differentiation</Txt>
      <Mark x={424.8} y={817.7} k="filled" c="#000" line="#000" />
      <Txt x={435} y={817.7} s={11} a="l">PBS</Txt>
      <Mark x={424.8} y={833.3} k="square" c="#e8381a" line="#e8381a" />
      <Txt x={435} y={833.3} s={11} a="l">Curdlan</Txt>

      {/* L */}
      <Box x1={590} y1={745} x2={632.3} y2={762.7}>Blood</Box>
      <Txt x={673.3} y={785}>Hemoglobin</Txt>
    </div>
  );
}
